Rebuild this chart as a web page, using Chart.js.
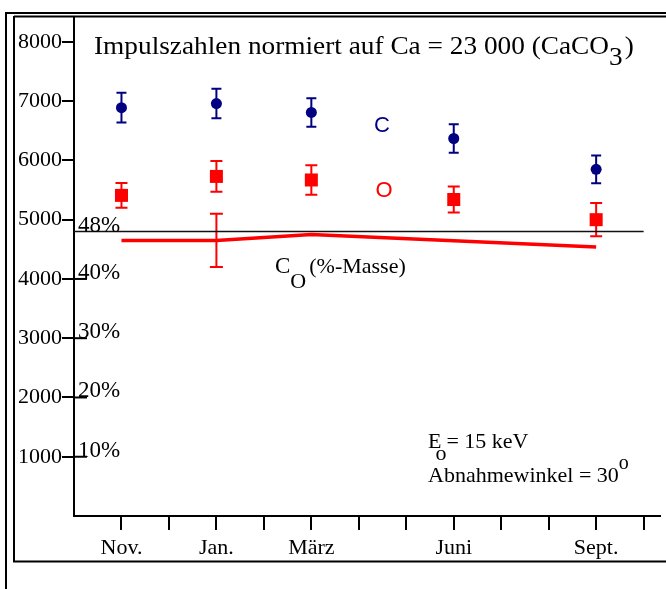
<!DOCTYPE html>
<html>
<head>
<meta charset="utf-8">
<script src="https://cdn.jsdelivr.net/npm/chart.js@4.4.0/dist/chart.umd.min.js"></script>
<style>
  html, body { margin: 0; padding: 0; background: #fff; }
  #wrap { width: 666px; height: 589px; position: relative; }
</style>
</head>
<body>
<div id="wrap"><canvas id="chart"></canvas></div>
<script>
// month position on the x axis (0 = Okt., 1 = Nov., ... 12 = Okt.)
const months = [1, 3, 5, 8, 11];
const monthLabels = ['Nov.', 'Jan.', 'März', 'Juni', 'Sept.'];
const monthTicks = [1, 2, 3, 4, 5, 6, 7, 8, 9, 10, 11, 12];

// Impulszahlen normiert auf Ca = 23 000
const cCounts = [6890, 6960, 6810, 6370, 5850];
const cErr = [250, 250, 240, 240, 235];
const oCounts = [5410, 5730, 5670, 5340, 5000];
const oErr = [210, 260, 250, 220, 280];
const countTicks = [1000, 2000, 3000, 4000, 5000, 6000, 7000, 8000];

// C_O in %-Masse (no value for Juni)
const coPercent = [46.5, 46.5, 47.5, null, 45.4];
const coErr = [null, 4.5, null, null, null];
const refPercent = 48;
const percentTicks = [10, 20, 30, 40, 48];

const SERIF = '"Liberation Serif", "Times New Roman", serif';
const SANS = '"Liberation Sans", Arial, sans-serif';
const NAVY = '#000080';
const RED = '#ff0000';

function pts(values) {
    return months.map((m, i) => ({ x: m, y: values[i] }));
}

// draws text pieces one after the other (for sub- and superscripts)
function drawRich(ctx, x, y, parts, sx) {
    ctx.save();
    ctx.translate(x, y);
    ctx.scale(sx || 1, 1);
    let cx = 0;
    parts.forEach(p => {
        ctx.font = (p.size || 22) + 'px ' + (p.family || SERIF);
        cx += p.dx || 0;
        ctx.fillText(p.t, cx, p.dy || 0);
        cx += ctx.measureText(p.t).width + (p.gap || 0);
    });
    ctx.restore();
}

// error bars for every dataset that has an err array
const errorBars = {
    id: 'errorBars',
    beforeDatasetsDraw(chart) {
        const ctx = chart.ctx;
        const xs = chart.scales.x;
        chart.data.datasets.forEach(ds => {
            if (!ds.err) return;
            const ys = chart.scales[ds.yAxisID || 'y'];
            ctx.save();
            ctx.strokeStyle = ds.errColor;
            ctx.lineWidth = 2;
            ds.data.forEach((p, i) => {
                const e = ds.err[i];
                if (e == null || p.y == null) return;
                const x = xs.getPixelForValue(p.x);
                const y1 = ys.getPixelForValue(p.y + e);
                const y2 = ys.getPixelForValue(p.y - e);
                const w = ds.capWidth / 2;
                ctx.beginPath();
                ctx.moveTo(x, y1); ctx.lineTo(x, y2);
                ctx.moveTo(x - w, y1); ctx.lineTo(x + w, y1);
                ctx.moveTo(x - w, y2); ctx.lineTo(x + w, y2);
                ctx.stroke();
            });
            ctx.restore();
        });
    }
};

// frame, percent scale and annotations
const extras = {
    id: 'extras',
    afterDraw(chart) {
        const ctx = chart.ctx;
        const ps = chart.scales.p;
        const left = chart.chartArea.left;
        ctx.save();
        ctx.strokeStyle = '#000';
        ctx.lineWidth = 2;
        ctx.beginPath();
        ctx.moveTo(6, 13); ctx.lineTo(666, 13);
        ctx.moveTo(6, 12); ctx.lineTo(6, 589);
        ctx.moveTo(14, 16.5); ctx.lineTo(666, 16.5);
        ctx.moveTo(14, 16); ctx.lineTo(14, 562);
        ctx.moveTo(13, 561.5); ctx.lineTo(666, 561.5);
        ctx.stroke();

        // percent stubs and labels
        ctx.fillStyle = '#000';
        ctx.textBaseline = 'alphabetic';
        percentTicks.forEach(v => {
            const y = ps.getPixelForValue(v);
            if (v !== refPercent) {
                ctx.beginPath();
                ctx.moveTo(left, y); ctx.lineTo(left + 13, y);
                ctx.stroke();
            }
            ctx.font = '23px ' + SERIF;
            ctx.fillText(v + '%', left + 4, y);
        });

        // title
        drawRich(ctx, 94, 54, [
            { t: 'Impulszahlen normiert auf Ca = 23 000 (CaCO', size: 26 },
            { t: '3', size: 26, dy: 11, gap: 2 },
            { t: ')', size: 26 }
        ], 1.05);

        // series names
        ctx.textAlign = 'center';
        ctx.font = '22px ' + SANS;
        ctx.fillStyle = NAVY;
        ctx.fillText('C', 382, 131.5);
        ctx.fillStyle = RED;
        ctx.fillText('O', 384, 196.5);
        ctx.textAlign = 'left';
        ctx.fillStyle = '#000';

        drawRich(ctx, 275, 272.5, [
            { t: 'C', size: 23 },
            { t: 'O', size: 22, dy: 15, gap: 3 },
            { t: '(%-Masse)', size: 22 }
        ]);
        drawRich(ctx, 428, 448, [
            { t: 'E', size: 22 },
            { t: 'o', size: 22, dx: -6, dy: 12 },
            { t: '= 15 keV', size: 22 }
        ]);
        drawRich(ctx, 428, 481.5, [
            { t: 'Abnahmewinkel = 30', size: 22 },
            { t: 'o', size: 20, dy: -13 }
        ]);
        ctx.restore();
    }
};

const ctx = document.getElementById('chart').getContext('2d');
const chart = new Chart(ctx, {
    type: 'scatter',
    data: {
        datasets: [
            {
                label: 'C_O',
                data: pts(coPercent),
                yAxisID: 'p',
                showLine: true,
                spanGaps: true,
                borderColor: RED,
                borderWidth: 3.5,
                pointRadius: 0,
                err: coErr,
                errColor: RED,
                capWidth: 13
            },
            {
                label: '48%',
                data: [{ x: 0, y: refPercent }, { x: 12, y: refPercent }],
                yAxisID: 'p',
                showLine: true,
                borderColor: '#111',
                borderWidth: 1.5,
                pointRadius: 0
            },
            {
                label: 'C',
                data: pts(cCounts),
                yAxisID: 'y',
                pointStyle: 'circle',
                pointRadius: 5.5,
                backgroundColor: NAVY,
                borderWidth: 0,
                err: cErr,
                errColor: NAVY,
                capWidth: 10
            },
            {
                label: 'O',
                data: pts(oCounts),
                yAxisID: 'y',
                pointStyle: 'rect',
                pointRadius: 9.2,
                backgroundColor: RED,
                borderWidth: 0,
                err: oErr,
                errColor: RED,
                capWidth: 12
            }
        ]
    },
    options: {
        responsive: true,
        maintainAspectRatio: false,
        animation: false,
        // no extra room for the big point markers, the frame is fixed
        layout: { autoPadding: false, padding: { top: 17, right: 6, left: 0, bottom: 0 } },
        plugins: { legend: { display: false }, tooltip: { enabled: false } },
        scales: {
            x: {
                type: 'linear',
                min: 0,
                max: 12.345,
                border: { display: true, color: '#000', width: 2 },
                grid: {
                    drawOnChartArea: false,
                    tickLength: 14,
                    lineWidth: 2,
                    color: '#000'
                },
                ticks: {
                    autoSkip: false,
                    maxRotation: 0,
                    padding: 5,
                    color: '#000',
                    font: { family: SERIF, size: 22 },
                    callback: v => {
                        const i = months.indexOf(v);
                        return i >= 0 ? monthLabels[i] : '';
                    }
                },
                afterBuildTicks: s => { s.ticks = monthTicks.map(v => ({ value: v })); },
                afterFit: s => {
                    s.height = 73;
                    s.paddingLeft = 0;
                    s.paddingRight = 0;
                }
            },
            y: {
                min: 0,
                max: 8420,
                border: { display: true, color: '#000', width: 2 },
                grid: {
                    drawOnChartArea: false,
                    tickLength: 12,
                    lineWidth: 2,
                    color: '#000'
                },
                ticks: {
                    padding: 0,
                    color: '#000',
                    font: { family: SERIF, size: 22 },
                    callback: v => String(v)
                },
                afterBuildTicks: s => { s.ticks = countTicks.map(v => ({ value: v })); },
                afterFit: s => {
                    s.width = 74;
                    s.paddingTop = 0;
                    s.paddingBottom = 0;
                }
            },
            p: {
                display: false,
                min: 0,
                max: 84.2
            }
        }
    },
    plugins: [errorBars, extras]
});
</script>
</body>
</html>
